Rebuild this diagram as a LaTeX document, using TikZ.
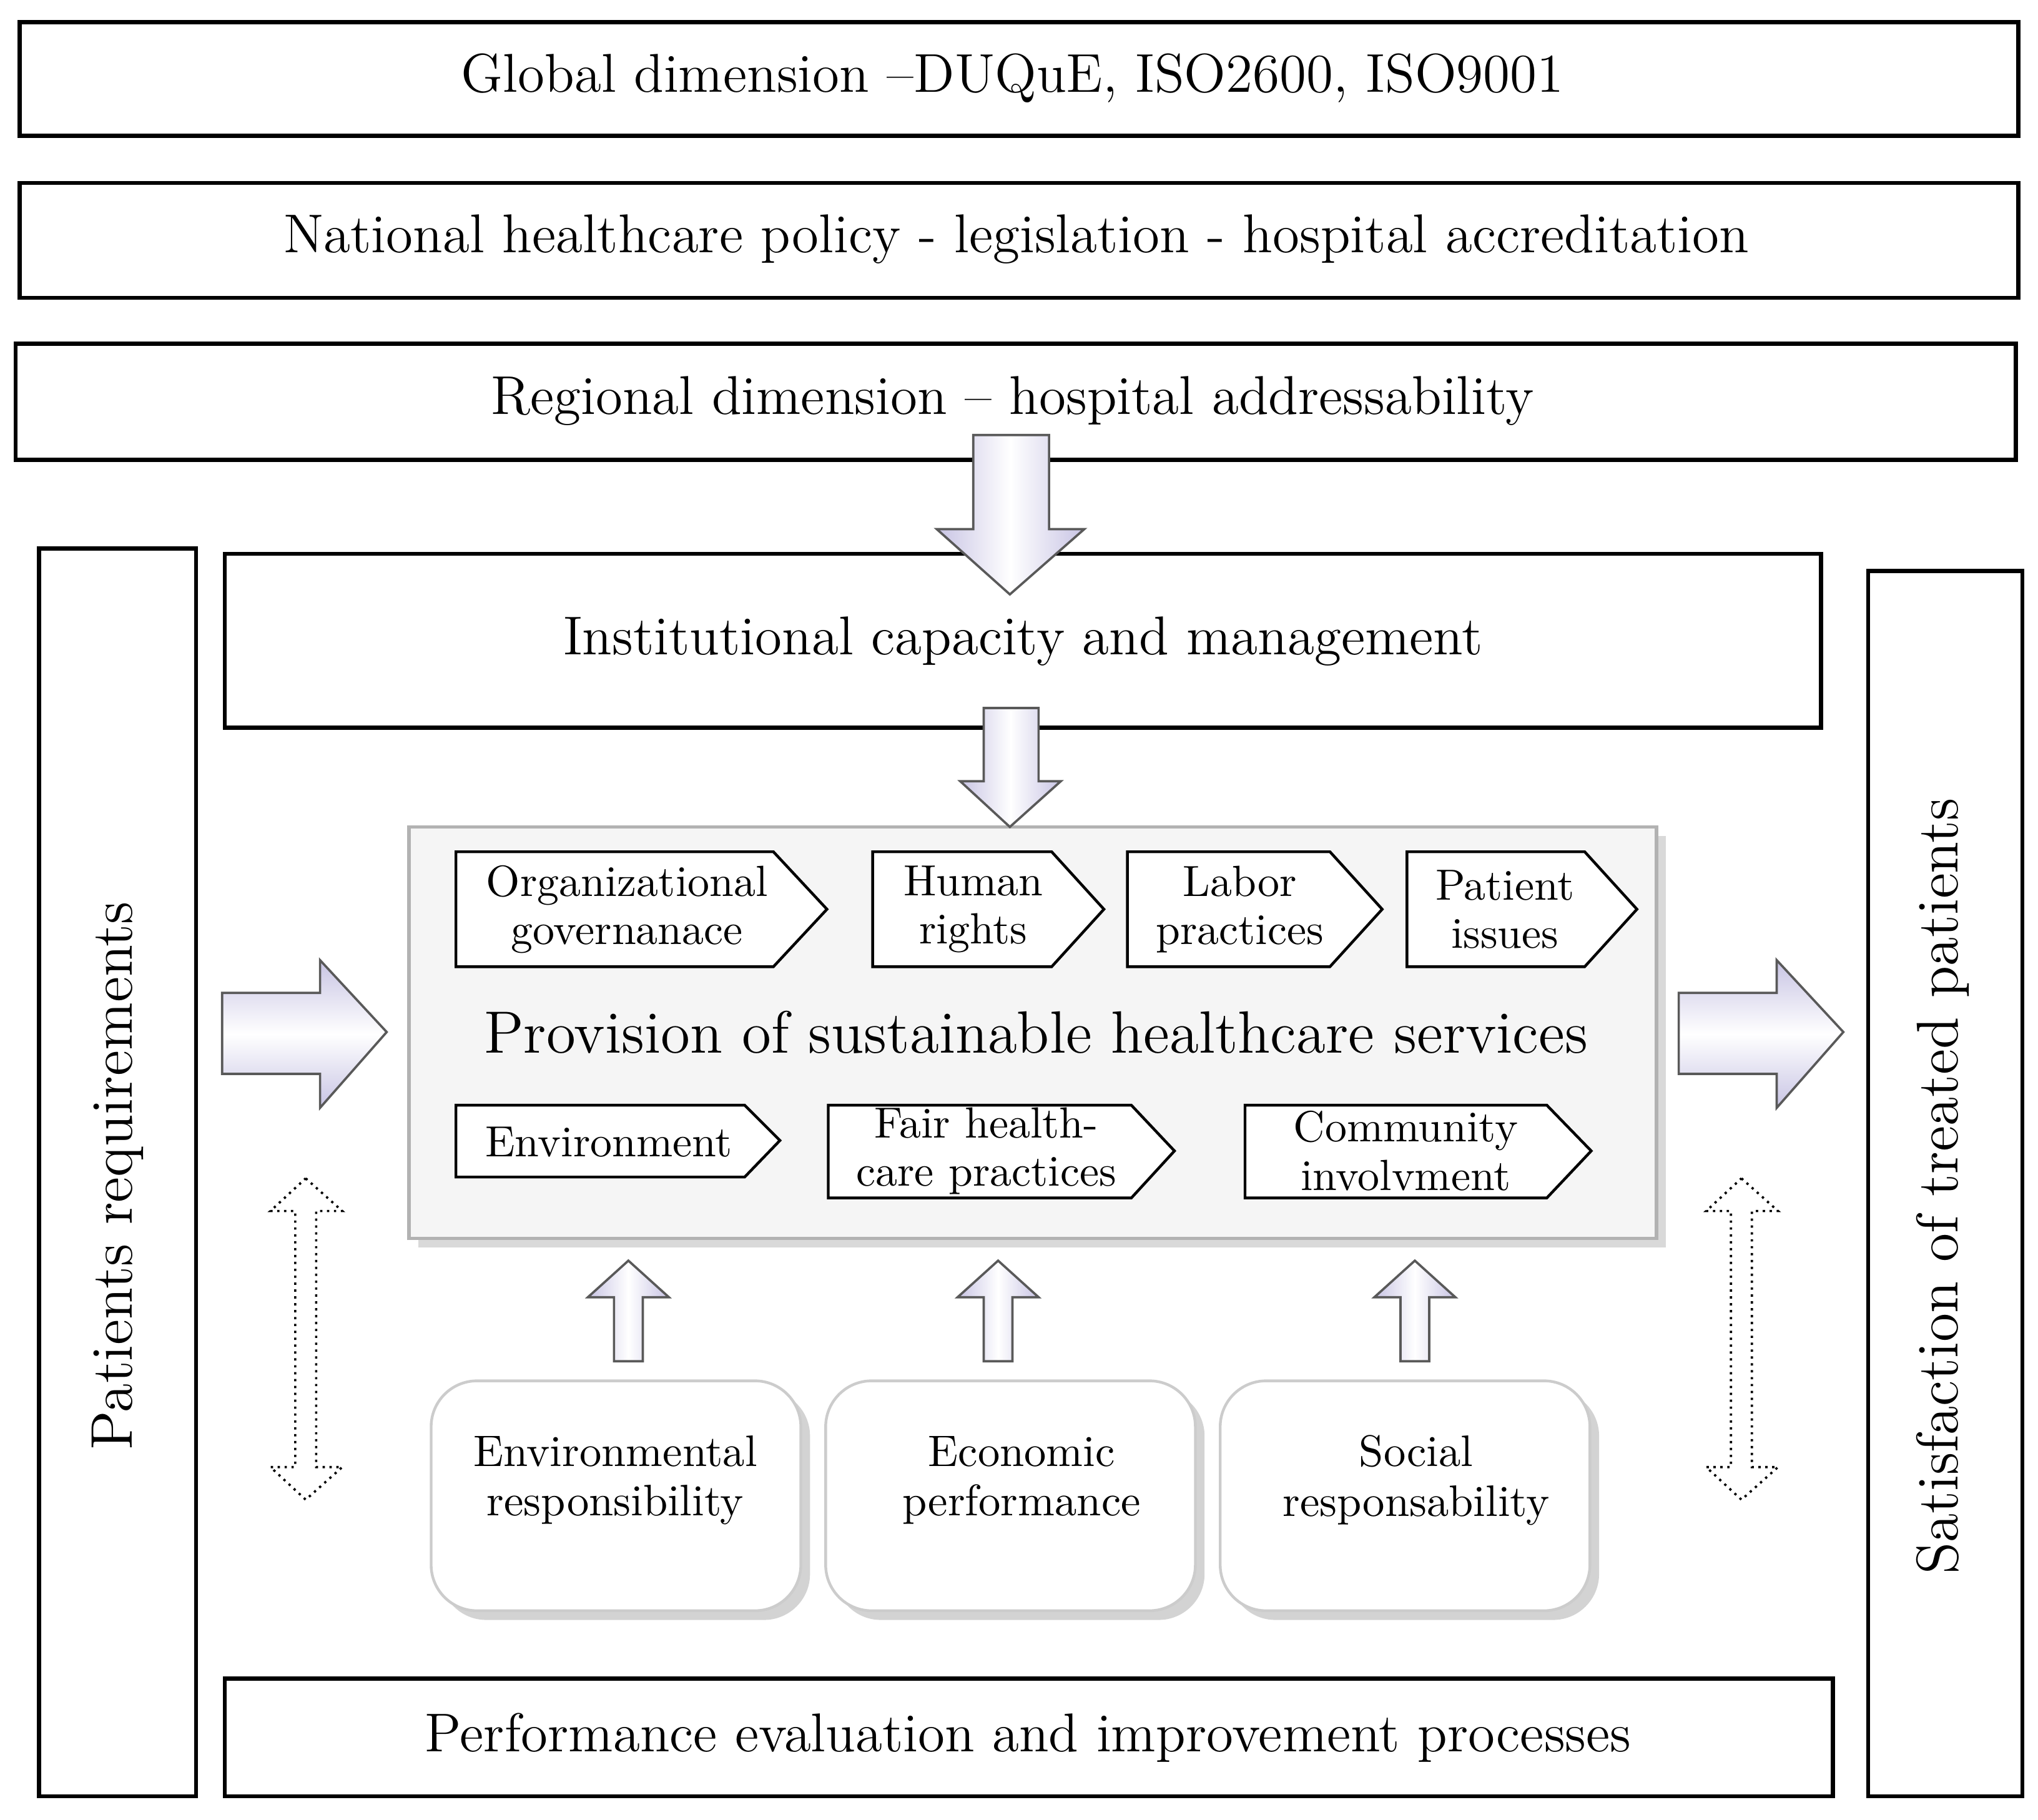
\documentclass[tikz,border=0pt]{standalone}
\usetikzlibrary{shadows}
\definecolor{lav}{RGB}{200,196,228}
\begin{document}
\begin{tikzpicture}[x=0.01cm,y=-0.01cm,
  box/.style={draw,line width=0.9pt},
  big/.style={font=\fontsize{11.9}{14}\selectfont},
  side/.style={font=\fontsize{12.8}{15}\selectfont},
  chev/.style={draw,fill=white,line width=0.6pt},
  ctext/.style={font=\fontsize{9.5}{10.5}\selectfont,align=center},
  btext/.style={font=\fontsize{9.6}{10.8}\selectfont,align=center},
  blk/.style={draw=gray!70!black,line width=0.5pt,left color=lav,right color=lav,middle color=white},
  blkh/.style={draw=gray!70!black,line width=0.5pt,top color=lav,bottom color=lav,middle color=white},
  hol/.style={draw,densely dotted,fill=white,line width=0.5pt},
  rbox/.style={draw=gray!40,fill=white,rounded corners=10pt,line width=0.6pt,drop shadow={opacity=0.35,shadow xshift=2pt,shadow yshift=-2pt}}]
\useasboundingbox (0,0) rectangle (1560,1393);
% top boxes
\draw[box] (15,17) rectangle (1545,104);
\node[big] (g) at (775,60) {Global dimension --DUQuE, ISO2600, ISO9001};
\draw[box] (15,140) rectangle (1545,228);
\node[big] (n) at (778,183) {National healthcare policy - legislation - hospital accreditation};
\draw[box] (12,263) rectangle (1543,352);
\node[big] (r) at (775,307) {Regional dimension -- hospital addressability};
% side boxes
\draw[box] (30,420) rectangle (150,1375);
\node[side,rotate=90] (pr) at (90,900) {Patients requirements};
\draw[box] (1430,437) rectangle (1548,1375);
\node[side,rotate=90] (sp) at (1487,908) {Satisfaction of treated patients};
% institutional
\draw[box] (172,424) rectangle (1394,557);
\node[big] (ic) at (783,491) {Institutional capacity and management};
% bottom
\draw[box] (172,1285) rectangle (1403,1375);
\node[big] (pe) at (787,1330) {Performance evaluation and improvement processes};
% big down arrow
\draw[blk] (745,333) -- (803,333) -- (803,405) -- (830,405) -- (773,455) -- (717,405) -- (745,405) -- cycle;
% gray box
\draw[draw=gray!60,fill=gray!8,line width=0.8pt,drop shadow={opacity=0.3,shadow xshift=2pt,shadow yshift=-2pt}] (313,633) rectangle (1268,948);
% small down arrow
\draw[blk] (753,542) -- (795,542) -- (795,598) -- (812,598) -- (773,633) -- (735,598) -- (753,598) -- cycle;
\node[font=\fontsize{13}{15}\selectfont] (ps) at (793,790) {Provision of sustainable healthcare services};
% chevrons
\draw[chev] (349,652) -- (592,652) -- (633,696) -- (592,740) -- (349,740) -- cycle;
\node[ctext] (c1) at (480,696) {Organizational\\governanace};
\draw[chev] (668,652) -- (805,652) -- (845,696) -- (805,740) -- (668,740) -- cycle;
\node[ctext] (c2) at (745,696) {Human\\rights};
\draw[chev] (863,652) -- (1018,652) -- (1058,696) -- (1018,740) -- (863,740) -- cycle;
\node[ctext] (c3) at (949,696) {Labor\\practices};
\draw[chev] (1077,652) -- (1213,652) -- (1253,696) -- (1213,740) -- (1077,740) -- cycle;
\node[ctext] (c4) at (1152,696) {Patient\\issues};
\draw[chev] (349,846) -- (570,846) -- (597,873) -- (570,901) -- (349,901) -- cycle;
\node[ctext] (c5) at (466,874) {Environment};
\draw[chev] (634,846) -- (866,846) -- (899,881) -- (866,917) -- (634,917) -- cycle;
\node[ctext] (c6) at (755,881) {Fair health-\\care practices};
\draw[chev] (953,846) -- (1184,846) -- (1218,881) -- (1184,917) -- (953,917) -- cycle;
\node[ctext] (c7) at (1076,881) {Community\\involvment};
% right arrows
\draw[blkh] (170,760) -- (245,760) -- (245,735) -- (296,790) -- (245,848) -- (245,822) -- (170,822) -- cycle;
\draw[blkh] (1285,760) -- (1360,760) -- (1360,735) -- (1411,790) -- (1360,848) -- (1360,822) -- (1285,822) -- cycle;
% double hollow arrows
\draw[hol] (234,902) -- (262,927) -- (242,927) -- (242,1123) -- (262,1123) -- (234,1148) -- (207,1123) -- (226,1123) -- (226,927) -- (207,927) -- cycle;
\draw[hol] (1333,902) -- (1361,927) -- (1341,927) -- (1341,1123) -- (1361,1123) -- (1333,1148) -- (1306,1123) -- (1325,1123) -- (1325,927) -- (1306,927) -- cycle;
% up arrows
\foreach \x in {481,764,1083}{
\draw[blk] (\x-11,1042) -- (\x+11,1042) -- (\x+11,993) -- (\x+31,993) -- (\x,965) -- (\x-31,993) -- (\x-11,993) -- cycle;}
% rounded boxes
\draw[rbox] (330,1057) rectangle (613,1233);
\node[btext] (e1) at (471,1133) {Environmental\\responsibility};
\draw[rbox] (632,1057) rectangle (915,1233);
\node[btext] (e2) at (782,1133) {Economic\\performance};
\draw[rbox] (934,1057) rectangle (1217,1233);
\node[btext] (e3) at (1084,1133) {Social\\responsability};
\end{tikzpicture}
\end{document}
